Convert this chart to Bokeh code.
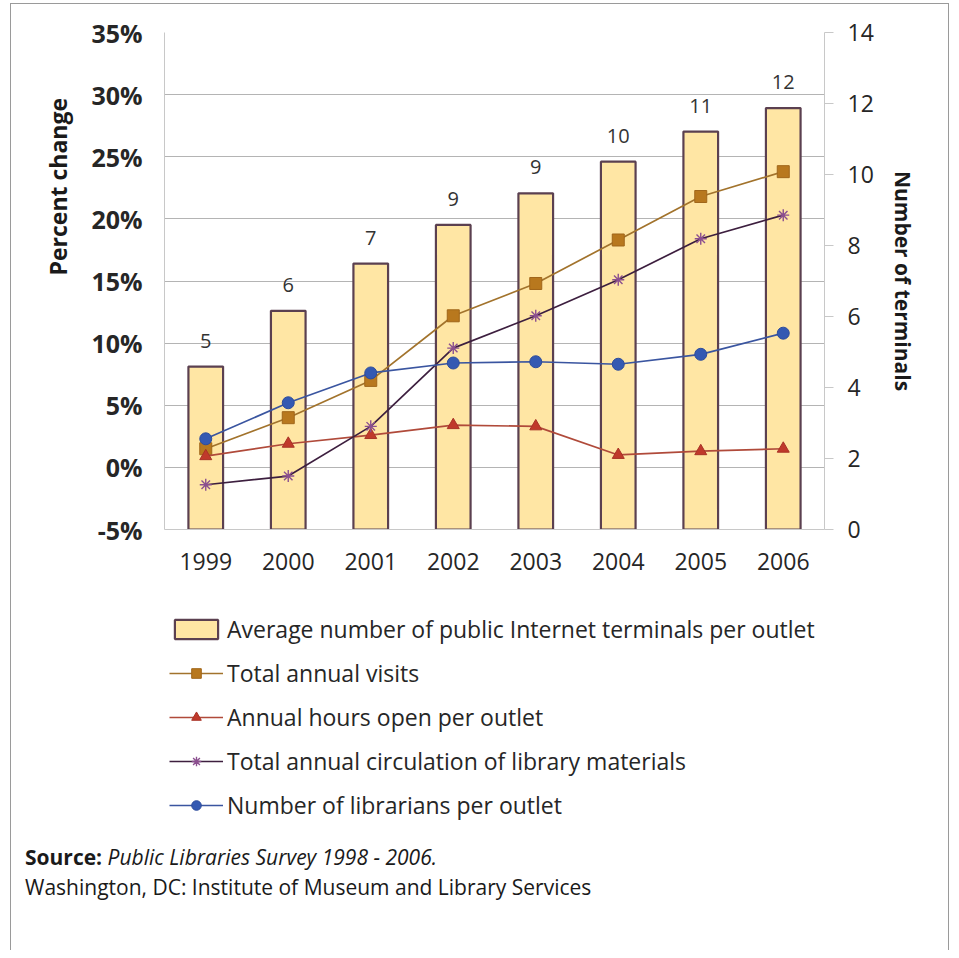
from bokeh.plotting import figure
from bokeh.layouts import column, row
from bokeh.models import (Range1d, LinearAxis, FixedTicker, Legend, LegendItem,
                          ColumnDataSource, LabelSet, Div, Title, Spacer)
from bokeh.core.properties import value
from bokeh.embed import file_html
from bokeh.resources import INLINE

# ---------------- data ----------------
years = ["1999", "2000", "2001", "2002", "2003", "2004", "2005", "2006"]
terminals = [4.59, 6.16, 7.49, 8.58, 9.47, 10.36, 11.21, 11.87]
terminal_labels = ["5", "6", "7", "9", "9", "10", "11", "12"]
visits = [1.5, 4.0, 7.0, 12.2, 14.8, 18.3, 21.8, 23.8]
hours_open = [0.9, 1.9, 2.6, 3.4, 3.3, 1.0, 1.3, 1.5]
circulation = [-1.4, -0.7, 3.3, 9.6, 12.2, 15.1, 18.4, 20.3]
librarians = [2.3, 5.2, 7.6, 8.4, 8.5, 8.3, 9.1, 10.8]

pct_ticks = [-5, 0, 5, 10, 15, 20, 25, 30, 35]
pct_labels = ["-5%", "0%", "5%", "10%", "15%", "20%", "25%", "30%", "35%"]
term_ticks = [0, 2, 4, 6, 8, 10, 12, 14]

series_names = [
    "Average number of public Internet terminals per outlet",
    "Total annual visits",
    "Annual hours open per outlet",
    "Total annual circulation of library materials",
    "Number of librarians per outlet",
]
left_title = "Percent change"
right_title = "Number of terminals"
source_bold = "Source:"
source_italic = "Public Libraries Survey 1998 - 2006."
source_line2 = "Washington, DC: Institute of Museum and Library Services"

FONT = "Open Sans"
W = 937
H_CHART, H_LEGEND, H_NOTE = 588, 240, 118
BAR_FILL = "#ffe6a4"
BAR_LINE = "#5b4050"
FRAME = "#9a9a9a"
STYLES = {
    "visits": dict(line="#a2732c", marker="square", fill="#b8781e", edge="#a0661a"),
    "hours": dict(line="#b04a3a", marker="triangle", fill="#c0392b", edge="#a83226"),
    "circ": dict(line="#3d1f3f", marker="asterisk", fill="#8b4f8f", edge="#8b4f8f"),
    "libr": dict(line="#3a55a0", marker="circle", fill="#3459b2", edge="#2d4c9c"),
}


def make_source():
    return ColumnDataSource(dict(year=years, terminals=terminals, label=terminal_labels,
                                 visits=visits, hours=hours_open, circ=circulation,
                                 libr=librarians))


def draw_series(fig, src, y_name, visible=True):
    kw = {} if y_name is None else {"y_range_name": y_name}
    bars = fig.vbar(x="year", top="terminals", bottom=0, width=0.42, source=src,
                    fill_color=BAR_FILL, line_color=BAR_LINE, line_width=2.2,
                    visible=visible, **kw)
    out = [[bars]]
    for col in ["visits", "hours", "circ", "libr"]:
        s = STYLES[col]
        ln = fig.line("year", col, source=src, line_color=s["line"], line_width=1.7,
                      visible=visible)
        if s["marker"] == "asterisk":
            mk = fig.scatter("year", col, source=src, marker="asterisk", size=12,
                             line_color=s["edge"], line_width=1.4, visible=visible)
        else:
            mk = fig.scatter("year", col, source=src, marker=s["marker"], size=12,
                             fill_color=s["fill"], line_color=s["edge"], visible=visible)
        out.append([ln, mk])
    return out


# ---------------- main chart ----------------
src = make_source()
p = figure(x_range=years, y_range=Range1d(-5, 35), width=W, height=H_CHART,
           output_backend="svg", toolbar_location=None,
           min_border_left=153, min_border_right=124, min_border_top=28,
           min_border_bottom=63, outline_line_color=None,
           background_fill_color="white", border_fill_color="white")
p.extra_y_ranges = {"terminals": Range1d(0, 14)}

p.xgrid.visible = False
p.ygrid.ticker = FixedTicker(ticks=pct_ticks)
p.ygrid.grid_line_color = "#b4b4b4"
p.ygrid.grid_line_width = 1

ya = p.yaxis[0]
ya.ticker = FixedTicker(ticks=pct_ticks)
ya.major_label_overrides = {t: l for t, l in zip(pct_ticks, pct_labels)}
ya.axis_line_color = "#c8c8c8"
ya.major_tick_line_color = None
ya.minor_tick_line_color = None
ya.major_label_text_font = FONT
ya.major_label_text_font_size = "25px"
ya.major_label_text_font_style = "bold"
ya.major_label_text_color = "#262626"
ya.major_label_standoff = 16

p.add_layout(Title(text=left_title, align="left", offset=254, standoff=29,
                   text_font=FONT, text_font_size="23px", text_font_style="bold",
                   text_color="#1a1a1a"), "left")

ra = LinearAxis(y_range_name="terminals", ticker=FixedTicker(ticks=term_ticks))
ra.axis_line_color = "#c8c8c8"
ra.major_tick_line_color = "#c8c8c8"
ra.major_tick_out = 9
ra.major_tick_in = 0
ra.minor_tick_line_color = None
ra.major_label_text_font = FONT
ra.major_label_text_font_size = "23px"
ra.major_label_text_color = "#262626"
ra.major_label_standoff = 14
ra.axis_label = right_title
ra.axis_label_text_font = FONT
ra.axis_label_text_font_size = "21px"
ra.axis_label_text_font_style = "bold"
ra.axis_label_text_color = "#1a1a1a"
ra.axis_label_standoff = 12
p.add_layout(ra, "right")

xa = p.xaxis[0]
xa.axis_line_color = "#c8c8c8"
xa.major_tick_line_color = None
xa.minor_tick_line_color = None
xa.major_label_text_font = FONT
xa.major_label_text_font_size = "23px"
xa.major_label_text_color = "#262626"
xa.major_label_standoff = 17

draw_series(p, src, "terminals")

labels = LabelSet(x="year", y="terminals", text="label", source=src,
                  y_range_name="terminals", y_offset=19, text_align="center",
                  text_baseline="bottom", text_font=value(FONT),
                  text_font_size=value("20px"), text_color="#333333")
p.add_layout(labels)

# ---------------- legend panel ----------------
p2 = figure(x_range=years, y_range=Range1d(-5, 35), width=W, height=H_LEGEND,
            output_backend="svg", toolbar_location=None,
            x_axis_location=None, y_axis_location=None,
            min_border_left=0, min_border_right=0, min_border_top=0,
            min_border_bottom=0, outline_line_color=None,
            background_fill_color="white", border_fill_color="white")
p2.xgrid.visible = False
p2.ygrid.visible = False
groups = draw_series(p2, make_source(), None, visible=False)

legend = Legend(items=[LegendItem(label=n, renderers=g) for n, g in zip(series_names, groups)],
                location=(5, 11), orientation="vertical",
                glyph_width=54, glyph_height=24, label_height=24, spacing=12,
                label_standoff=4, padding=0, margin=0,
                border_line_color=None, background_fill_alpha=0,
                inactive_fill_alpha=0,
                label_text_font=FONT, label_text_font_size="23px",
                label_text_color="#262626")
p2.add_layout(legend)

# ---------------- source note ----------------
note = Div(text=f"<b>{source_bold}</b> <i>{source_italic}</i><br>{source_line2}",
           width=W, height=H_NOTE, margin=0,
           styles={"font-family": FONT, "font-size": "21px", "line-height": "30px",
                   "color": "#1a1a1a", "padding-left": "14px", "padding-top": "10px",
                   "box-sizing": "border-box"})

inner = column(p, p2, note, spacing=0)
H_ALL = H_CHART + H_LEGEND + H_NOTE
edge_style = {"background-color": FRAME}
left_edge = Spacer(width=1, height=H_ALL, margin=0, styles=edge_style)
right_edge = Spacer(width=1, height=H_ALL, margin=0, styles=edge_style)
top_edge = Spacer(width=W + 2, height=1, margin=0, styles=edge_style)

layout = column(top_edge, row(left_edge, inner, right_edge, spacing=0), spacing=0)
layout.styles = {"margin-left": "10px", "margin-top": "3px"}

open("out.html", "w").write(file_html(layout, INLINE))
